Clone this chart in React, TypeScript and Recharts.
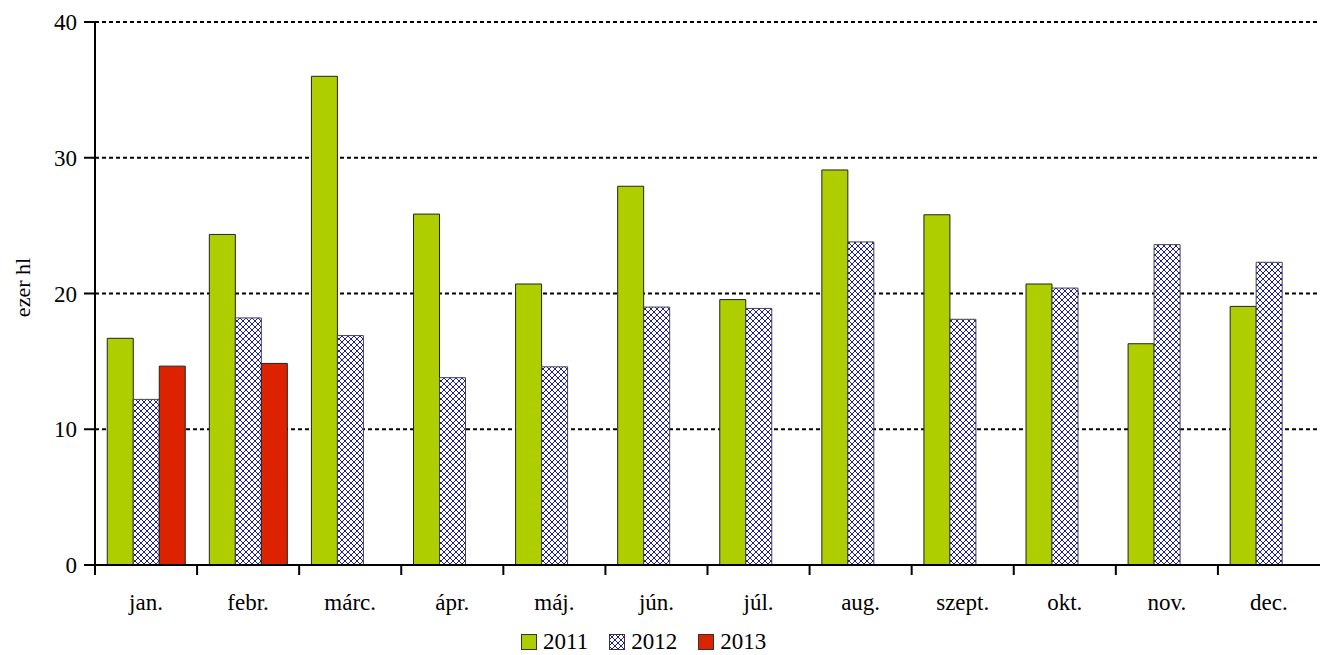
import React from 'react';
import { BarChart, Bar, XAxis, YAxis, CartesianGrid, Legend, Label } from 'recharts';

const months = ['jan.', 'febr.', 'márc.', 'ápr.', 'máj.', 'jún.', 'júl.', 'aug.', 'szept.', 'okt.', 'nov.', 'dec.'];
const s2011 = [16.7, 24.35, 36.0, 25.85, 20.7, 27.9, 19.55, 29.1, 25.8, 20.7, 16.3, 19.05];
const s2012 = [12.2, 18.2, 16.9, 13.8, 14.6, 19.0, 18.9, 23.8, 18.1, 20.4, 23.6, 22.3];
const s2013: (number | null)[] = [14.65, 14.85, null, null, null, null, null, null, null, null, null, null];
const yTicks = [0, 10, 20, 30, 40];
const seriesNames = ['2011', '2012', '2013'];

const GREEN = '#AFCE00';
const RED = '#DD2200';
const FONT = '"Liberation Serif", "Times New Roman", serif';

const data = months.map((m, i) => ({ month: m, y2011: s2011[i], y2012: s2012[i], y2013: s2013[i] }));

const W = 1323;
const H = 655;
const margin = { top: 22, right: 3, left: 0, bottom: 0 };
const yAxisWidth = 95;

const XTick = (props: any) => {
  const { x, y, payload } = props;
  const half = payload && typeof payload.offset === 'number' && payload.offset > 0
    ? payload.offset
    : (W - margin.left - margin.right - yAxisWidth) / months.length / 2;
  const lx = x - half;
  return (
    <g>
      <line x1={lx} y1={y} x2={lx} y2={y + 10} stroke="#000" strokeWidth={2} />
      <text x={x} y={y + 45} textAnchor="middle" fontFamily={FONT} fontSize={23} fill="#000">
        {payload.value}
      </text>
    </g>
  );
};

const YTick = (props: any) => {
  const { x, y, payload } = props;
  return (
    <text x={x} y={y + 8} textAnchor="end" fontFamily={FONT} fontSize={23} fill="#000">
      {payload.value}
    </text>
  );
};

const Swatch = ({ fill }: { fill: string }) => (
  <svg width={16} height={16} style={{ display: 'block', marginRight: 6 }}>
    <rect x={0.5} y={0.5} width={15} height={15} fill={fill} stroke="#333" strokeWidth={1} />
  </svg>
);

const LegendContent = () => {
  const fills = [GREEN, 'url(#hatch2012)', RED];
  return (
    <div style={{ height: 42, display: 'flex', alignItems: 'flex-start', paddingTop: 17, paddingLeft: 521, boxSizing: 'border-box' }}>
      {seriesNames.map((n, i) => (
        <div key={n} style={{ display: 'flex', alignItems: 'center', height: 24, marginRight: 21 }}>
          <Swatch fill={fills[i]} />
          <span style={{ fontFamily: FONT, fontSize: 23, lineHeight: '24px', color: '#000' }}>{n}</span>
        </div>
      ))}
    </div>
  );
};

const YLabel = (props: any) => {
  const vb = props.viewBox || { x: 0, y: 22, width: 95, height: 541 };
  const cx = vb.x + 30;
  const cy = vb.y + vb.height / 2 - 6;
  return (
    <text x={cx} y={cy} transform={`rotate(-90 ${cx} ${cy})`} textAnchor="middle" fontFamily={FONT} fontSize={22} fill="#000">
      ezer hl
    </text>
  );
};

export default function App() {
  return (
    <div style={{ position: 'absolute', left: 0, top: 0, width: W, height: H, background: '#fff' }}>
      <svg width={0} height={0} style={{ position: 'absolute' }}>
        <defs>
          <pattern id="hatch2012" patternUnits="userSpaceOnUse" width={6} height={6}>
            <rect width={6} height={6} fill="#fff" />
            <path d="M0,0 L6,6 M6,0 L0,6" stroke="#1E1E96" strokeWidth={1} />
          </pattern>
        </defs>
      </svg>
      <BarChart width={W} height={H} data={data} margin={margin} barCategoryGap="12%" barGap={0}>
        <CartesianGrid horizontal vertical={false} stroke="#000" strokeWidth={2} strokeDasharray="4 3" />
        <XAxis
          dataKey="month"
          axisLine={{ stroke: '#000', strokeWidth: 2 }}
          tickLine={false}
          tickSize={0}
          tickMargin={0}
          height={48}
          interval={0}
          tick={<XTick />}
        />
        <YAxis
          domain={[0, 40]}
          ticks={yTicks}
          width={yAxisWidth}
          axisLine={{ stroke: '#000', strokeWidth: 2 }}
          tickLine={{ stroke: '#000', strokeWidth: 2 }}
          tickSize={11}
          tickMargin={7}
          tick={<YTick />}
        >
          <Label content={<YLabel />} />
        </YAxis>
        <Legend verticalAlign="bottom" align="left" height={42} content={<LegendContent />} />
        <Bar dataKey="y2011" name="2011" fill={GREEN} stroke="#222" strokeWidth={1} isAnimationActive={false} />
        <Bar dataKey="y2012" name="2012" fill="url(#hatch2012)" stroke="#444" strokeWidth={1} isAnimationActive={false} />
        <Bar dataKey="y2013" name="2013" fill={RED} stroke="#222" strokeWidth={1} isAnimationActive={false} />
      </BarChart>
    </div>
  );
}
